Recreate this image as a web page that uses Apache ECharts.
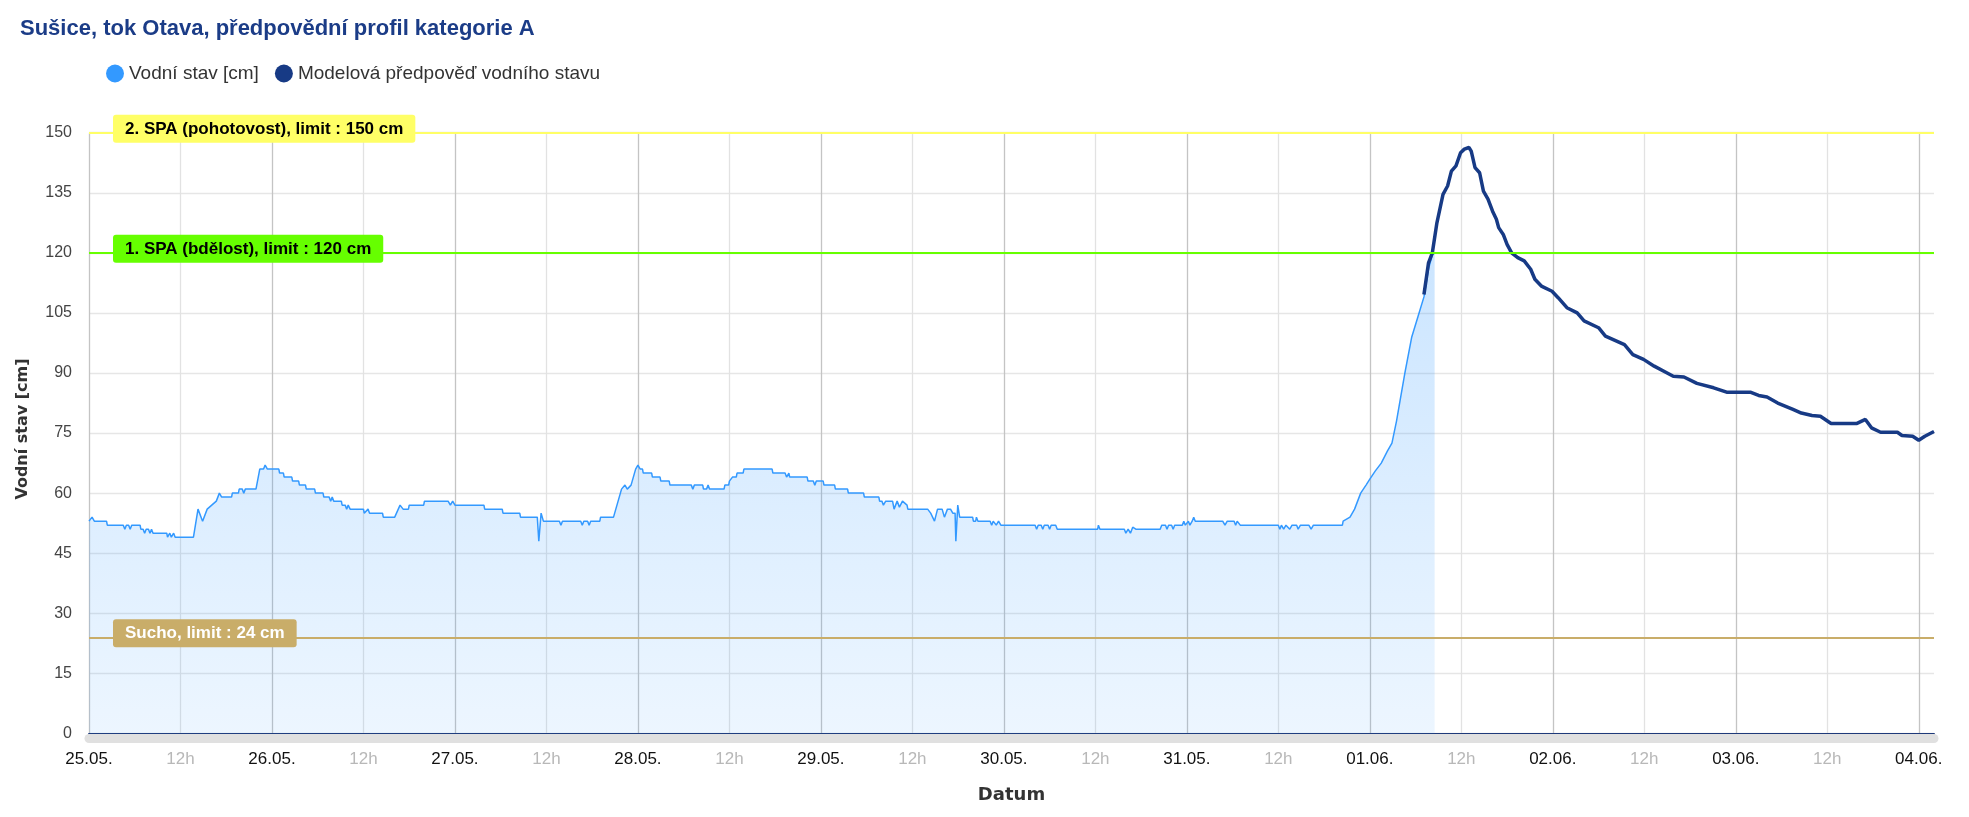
<!DOCTYPE html>
<html><head><meta charset="utf-8">
<script src="https://cdn.jsdelivr.net/npm/echarts@6/dist/echarts.min.js"></script>
<style>html,body{margin:0;padding:0;background:#fff}#c{width:1969px;height:817px}</style>
</head><body><div id="c"></div>
<script>
// ---- data (x = hours since 25.05. 00:00) ----
const chartTitle = 'Sušice, tok Otava, předpovědní profil kategorie A';
const seriesNames = ['Vodní stav [cm]', 'Modelová předpověď vodního stavu'];
const dayLabels = ['25.05.','26.05.','27.05.','28.05.','29.05.','30.05.','31.05.','01.06.','02.06.','03.06.','04.06.'];
const halfDayLabel = '12h';
const yTicksMax = 150, yTickStep = 15, xMaxHours = 242;

const obsHours = [0,0.4,0.7,2.3,2.4,4.5,4.7,4.9,5.2,5.4,5.6,6.7,6.8,7.1,7.3,7.5,7.8,8.0,8.2,8.4,10.2,10.3,10.6,10.8,11.1,11.3,13.7,14.3,14.7,14.9,15.5,16.1,16.7,17.1,17.4,18.7,18.8,19.6,19.7,20.1,20.3,20.5,21.9,22.4,22.9,23.1,23.4,24.9,25.0,25.5,25.6,26.6,26.7,27.5,27.6,28.4,28.5,29.6,29.7,30.7,30.8,31.5,31.7,31.9,32.1,33.1,33.2,33.6,33.8,34.0,34.25,36.0,36.1,36.6,36.8,37.2,38.5,38.6,40.1,40.8,41.2,41.9,42.0,43.9,44.0,47.1,47.4,47.7,48.0,51.8,51.9,54.2,54.3,56.5,56.6,58.8,59.0,59.3,59.6,61.7,61.9,62.1,64.5,64.7,64.9,65.4,65.6,65.8,67.0,67.1,68.8,69.85,70.3,70.6,71.1,71.7,72.0,72.3,72.6,72.7,73.8,73.9,74.9,75.0,76.1,76.2,79.0,79.2,79.4,80.5,80.6,81.0,81.2,81.4,83.3,83.4,83.9,84.0,84.4,84.9,85.0,85.8,85.9,89.6,89.7,91.3,91.5,91.8,91.9,94.2,94.3,95.0,95.2,95.4,96.3,96.4,97.8,97.9,99.5,99.6,101.6,101.7,103.6,103.7,104.0,104.2,104.5,105.4,105.6,106.0,106.3,106.7,107.3,107.4,110.0,110.4,110.9,111.3,111.9,112.2,112.6,113.0,113.3,113.6,113.7,113.95,114.2,115.9,116.0,116.3,116.4,116.6,118.2,118.4,118.6,119.0,119.3,119.6,121.2,124.1,124.3,124.5,124.9,125.1,125.3,125.8,126.0,126.2,126.8,127.0,132.3,132.4,132.6,135.8,136.0,136.3,136.6,136.9,137.3,140.5,140.7,141.2,141.4,141.6,142.0,142.2,142.4,143.4,143.6,143.8,144.2,144.4,144.7,144.9,145.1,148.7,149.0,149.3,150.2,150.4,150.6,151.0,156.0,156.2,156.4,156.7,157.0,157.5,157.8,158.4,158.6,158.9,160.0,160.3,160.6,164.4,164.5,165.4,166.0,166.8,167.5,168.0,168.7,169.5,170.3,170.9,171.5,172.0,172.6,173.5,174.3,175.1,175.7,176.2,176.5];
const obsLevels = [53,54,53,53,52,52,51,52,52,51,52,52,51,51,50,51,51,50,51,50,50,49,50,49,50,49,49,56,54,53,56,57,58,60,59,59,60,60,61,61,60,61,61,66,66,67,66,66,65,65,64,64,63,63,62,62,61,61,60,60,59,59,58,59,58,58,57,57,56,57,56,56,55,56,55,55,55,54,54,57,56,56,57,57,58,58,57,58,57,57,56,56,55,55,54,54,48,55,53,53,52,53,53,52,53,53,52,53,53,54,54,61,62,61,62,66,67,66,66,65,65,64,64,63,63,62,62,61,62,62,61,61,62,61,61,62,62,63,64,64,65,65,66,66,65,65,64,65,64,64,63,63,62,63,63,62,62,61,61,60,60,59,59,58,58,57,58,58,56,58,56.5,58,57,56,56,55,53,56,56,54,56,56,55,55,48,57,54,54,53,53,54,53,53,52,53,52,53,52,52,52,51,52,52,51,52,52,51,52,52,51,51,52,51,51,50,51,50,51.5,51,51,52,52,51,52,52,51,52,52,53,52,53,52,53,54,53,53,52,53,53,52,53,52,52,51,52,51,52,51,52,52,51,52,52,51,52,52,53,54,56,60,62,63.5,65.5,67.5,70.5,72.5,78,83.5,90,99,104,109,116,119.5,120];

const fcHours = [175.1,175.7,176.2,176.8,177.6,178.2,178.7,179.3,179.9,180.4,181.0,181.3,181.8,182.4,182.9,183.5,184.1,184.6,184.9,185.5,186.0,186.6,187.4,188.25,189.1,189.65,190.5,191.9,192.7,193.85,195.2,196.1,198.0,198.9,201.4,202.5,203.9,205.3,207.0,207.8,209.2,210.9,213.1,214.8,217.9,219.0,220.1,221.5,223.5,224.6,226.0,227.1,228.5,231.9,233.0,233.8,235.0,237.2,237.8,239.2,240.0,240.8,242.0];
const fcLevels = [109.6,117.5,120,127.5,134.6,136.7,140.4,141.7,145,145.9,146.3,145.4,141.3,140,135.4,133.4,130.4,128.4,126.3,124.6,122.1,120,118.8,118,115.9,113.4,111.7,110.4,108.8,106.3,105,103,101.3,99.2,97.1,94.6,93.4,91.7,90,89.2,89,87.4,86.3,85.2,85.2,84.4,84,82.5,80.9,80,79.4,79.2,77.4,77.4,78.4,76.3,75.2,75.2,74.4,74.2,73.2,74.2,75.4];

const limitValues = [150, 120, 24];
const limitNames = ['2. SPA (pohotovost), limit : 150 cm', '1. SPA (bdělost), limit : 120 cm', 'Sucho, limit : 24 cm'];
const limitColors = ['#ffff66', '#66ff00', '#c9ad69'];
const limitTextColors = ['#000000', '#000000', '#ffffff'];

const obsData = obsHours.map((h, i) => [h, obsLevels[i]]);
const fcData = fcHours.map((h, i) => [h, fcLevels[i]]);

const chart = echarts.init(document.getElementById('c'), null, {renderer: 'canvas'});
const font = 'Liberation Sans, Arial, sans-serif';
chart.setOption({
  animation: false,
  backgroundColor: '#ffffff',
  textStyle: {fontFamily: font},
  title: {
    text: chartTitle, left: 15, top: 13,
    textStyle: {fontSize: 22, fontWeight: 'bold', color: '#1b3c87', fontFamily: font}
  },
  legend: {
    left: 101, top: 59, icon: 'circle', itemWidth: 18, itemHeight: 18, itemGap: 16,
    textStyle: {fontSize: 19, color: '#333333', fontFamily: font},
    data: seriesNames
  },
  grid: {left: 89, right: 35, top: 132.7, bottom: 83.6, containLabel: false},
  xAxis: [{
    type: 'value', min: 0, max: xMaxHours, interval: 12,
    name: 'Datum', nameLocation: 'middle', nameGap: 53,
    nameTextStyle: {fontFamily: 'DejaVu Sans', fontWeight: 'bold', fontSize: 18, color: '#333333'},
    axisLine: {show: true, onZero: false, lineStyle: {color: '#1f3a7a', width: 2}},
    axisTick: {show: false},
    axisLabel: {
      margin: 17, fontSize: 17, fontFamily: font,
      formatter: v => (v % 24 === 0 ? dayLabels[v / 24] : (v % 12 === 0 ? halfDayLabel : '')),
      color: v => (v % 24 === 0 ? '#111111' : '#b8b8b8'),
      showMaxLabel: true
    },
    splitLine: {show: true, showMaxLine: false, lineStyle: {color: ['#c4c4c4', '#e2e2e2'], width: 1.3}}
  }, {
    type: 'value', min: 0, max: xMaxHours, position: 'bottom', offset: 5,
    axisLine: {show: true, onZero: false, lineStyle: {color: '#e0e0e0', width: 9}},
    axisTick: {show: false}, axisLabel: {show: false}, splitLine: {show: false}
  }],
  yAxis: {
    type: 'value', min: 0, max: yTicksMax, interval: yTickStep,
    name: 'Vodní stav [cm]', nameLocation: 'middle', nameGap: 58, nameRotate: 90,
    nameTextStyle: {fontFamily: 'DejaVu Sans', fontWeight: 'bold', fontSize: 16, color: '#333333', padding: [0, 0, 0, 8]},
    axisLine: {show: false}, axisTick: {show: false},
    axisLabel: {margin: 17, fontSize: 16, color: '#444444', fontFamily: font},
    splitLine: {show: true, lineStyle: {color: '#e6e6e6', width: 1.3}}
  },
  series: [{
    name: seriesNames[0], type: 'line', data: obsData, symbol: 'none', z: 3,
    color: '#3399ff',
    lineStyle: {color: '#3399ff', width: 1.5},
    areaStyle: {color: new echarts.graphic.LinearGradient(0, 0, 0, 1, [
      {offset: 0, color: 'rgba(51,153,255,0.36)'},
      {offset: 1, color: 'rgba(51,153,255,0.13)'}
    ])},
    markLine: {
      silent: true, symbol: 'none', animation: false,
      label: {
        show: true, position: 'insideStartTop', distance: [24, -10],
        fontSize: 17, fontWeight: 'bold', fontFamily: font,
        padding: [6, 12, 5, 12], borderRadius: 3
      },
      data: limitValues.map((v, i) => ({
        yAxis: v,
        lineStyle: {color: limitColors[i], width: 2, type: 'solid'},
        label: {formatter: limitNames[i], backgroundColor: limitColors[i], color: limitTextColors[i]}
      }))
    }
  }, {
    name: seriesNames[1], type: 'line', data: fcData, symbol: 'none', z: 4,
    color: '#173a85',
    lineStyle: {color: '#173a85', width: 3.5}
  }]
});
</script></body></html>
